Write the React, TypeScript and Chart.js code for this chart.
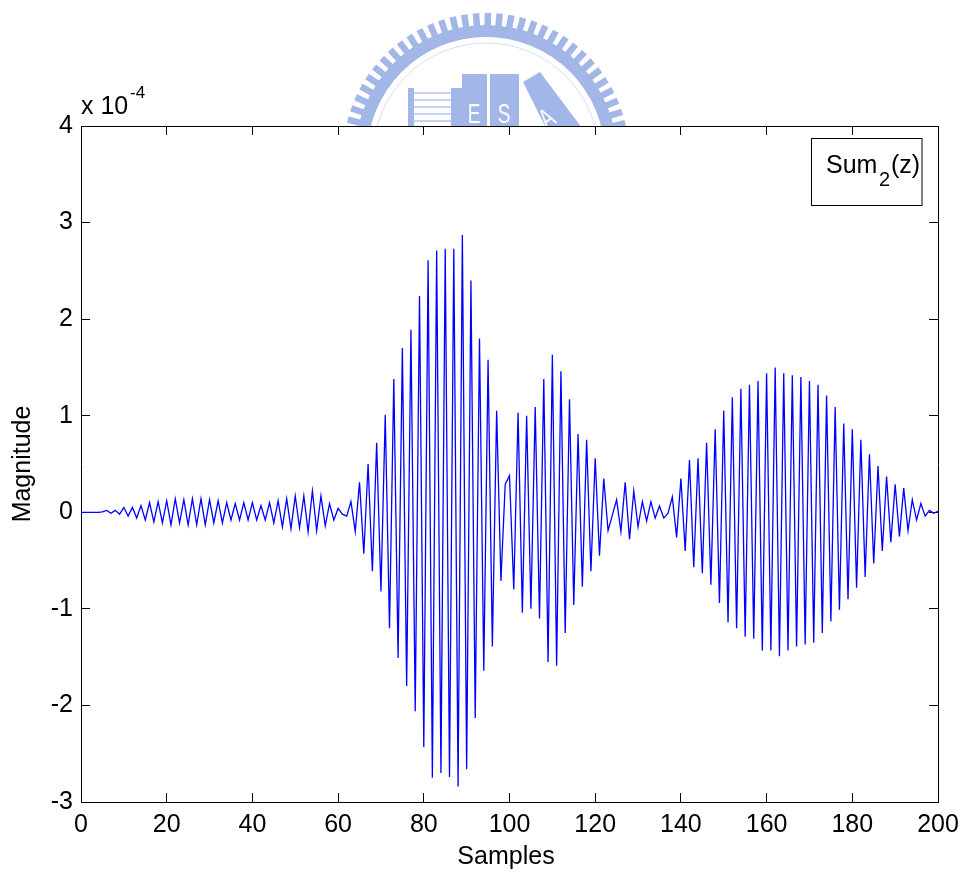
import React, { useEffect, useRef } from "react";
import { Chart, registerables } from "chart.js";

Chart.register(...registerables);

// Magnitude in units of 1e-4, sample 0 onward
const quietLead = [0, 0, 0, 0, 0, 0.005, 0.02, -0.01, 0.02, -0.02, 0.05, -0.04, 0.05, -0.06, 0.07, -0.08, 0.1, -0.1, 0.11, -0.11, 0.12, -0.13, 0.14, -0.11, 0.13, -0.13, 0.14, -0.13, 0.14, -0.13, 0.13, -0.11, 0.12, -0.11, 0.1, -0.08, 0.09, -0.08, 0.1, -0.08, 0.1, -0.08, 0.07, -0.08, 0.1, -0.11, 0.12, -0.15, 0.14, -0.17, 0.17, -0.16, 0.17, -0.2, 0.22, -0.19, 0.17, -0.14, 0.09, -0.08, 0.04, -0.02, -0.04];
const mainBurst = [0.11, -0.2, 0.31, -0.43, 0.5, -0.61, 0.72, -0.82, 1.01, -1.2, 1.38, -1.51, 1.7, -1.8, 1.89, -2.06, 2.24, -2.43, 2.61, -2.75, 2.71, -2.7, 2.73, -2.74, 2.73, -2.84, 2.87, -2.66, 2.4, -2.13, 1.8, -1.64, 1.58, -1.39, 1.05, -0.71, 0.29];
const middleBurst = [0.38, -0.8, 1.03, -1.04, 1.0, -1.0, 1.09, -1.1, 1.38, -1.55, 1.63, -1.59, 1.46, -1.25, 1.17, -0.96, 0.81, -0.77, 0.75, -0.61, 0.56, -0.45, 0.35, -0.19, -0.03, 0.13, -0.2, 0.31, -0.28, 0.22, -0.15, 0.11, -0.09, 0.11, -0.06, 0.065, -0.06, -0.01];
const lastBurst = [0.16, -0.26, 0.35, -0.4, 0.54, -0.57, 0.56, -0.63, 0.72, -0.75, 0.86, -0.94, 1.05, -1.14, 1.19, -1.2, 1.28, -1.29, 1.32, -1.31, 1.36, -1.43, 1.44, -1.43, 1.5, -1.49, 1.44, -1.43, 1.42, -1.39, 1.4, -1.37, 1.36, -1.35, 1.32, -1.25, 1.21, -1.13, 1.09, -1.01, 0.92, -0.9, 0.86, -0.78, 0.75, -0.67, 0.6, -0.53, 0.48, -0.4, 0.37, -0.31, 0.29, -0.25, 0.25, -0.19, 0.13, -0.08, 0.09, -0.04, 0.02, -0.01, 0.01];
const magnitudes = [...quietLead, ...mainBurst, ...middleBurst, ...lastBurst];

const xTitle = "Samples";
const yTitle = "Magnitude";
const legendParts = ["Sum", "2", "(z)"];
const exponentParts = ["x 10", "-4"];
const logoLetters = ["E", "S", "A"];

const FONT = '"Liberation Sans", Arial, sans-serif';
const LOGO = "#a3b6e8";

function drawLogo(ctx: CanvasRenderingContext2D) {
  const cx = 486, cy = 156;
  ctx.save();
  ctx.filter = "blur(0.7px)";
  ctx.fillStyle = LOGO;
  ctx.strokeStyle = LOGO;
  // toothed ring
  ctx.beginPath();
  ctx.arc(cx, cy, 131, Math.PI, 2 * Math.PI);
  ctx.arc(cx, cy, 119, 2 * Math.PI, Math.PI, true);
  ctx.closePath();
  ctx.fill();
  ctx.lineWidth = 6.5;
  for (let a = -170; a <= -10; a += 4.75) {
    const r = (a * Math.PI) / 180;
    ctx.beginPath();
    ctx.moveTo(cx + 128 * Math.cos(r), cy + 128 * Math.sin(r));
    ctx.lineTo(cx + 143 * Math.cos(r), cy + 143 * Math.sin(r));
    ctx.stroke();
  }
  // thin inner ring
  ctx.globalAlpha = 0.45;
  ctx.lineWidth = 1;
  ctx.beginPath();
  ctx.arc(cx, cy, 113, Math.PI, 2 * Math.PI);
  ctx.stroke();
  ctx.globalAlpha = 1;
  // books
  ctx.fillRect(408, 88, 6, 40);
  ctx.fillRect(451, 88, 11, 40);
  ctx.fillRect(462, 74, 25, 54);
  ctx.fillRect(490, 74, 29, 54);
  ctx.globalAlpha = 0.6;
  for (let y = 92; y < 128; y += 7) ctx.fillRect(414, y, 37, 2);
  ctx.globalAlpha = 1;
  ctx.beginPath();
  ctx.moveTo(523, 82);
  ctx.lineTo(540, 72);
  ctx.lineTo(582, 128);
  ctx.lineTo(546, 128);
  ctx.closePath();
  ctx.fill();
  // letters
  ctx.fillStyle = "#ffffff";
  ctx.font = `28px ${FONT}`;
  ctx.textAlign = "center";
  ctx.textBaseline = "alphabetic";
  const letter = (t: string, x: number, y: number, rot: number) => {
    ctx.save();
    ctx.translate(x, y);
    ctx.rotate(rot);
    ctx.scale(0.68, 1);
    ctx.fillText(t, 0, 0);
    ctx.restore();
  };
  letter(logoLetters[0], 474, 123, 0);
  letter(logoLetters[1], 504, 123, 0);
  letter(logoLetters[2], 552, 126, -0.6);
  ctx.restore();
}

const decorations = {
  id: "decorations",
  beforeDraw(chart: any) {
    const { ctx, chartArea: a } = chart;
    ctx.save();
    ctx.fillStyle = "#ffffff";
    ctx.fillRect(0, 0, chart.width, chart.height);
    drawLogo(ctx);
    ctx.fillStyle = "#ffffff";
    ctx.fillRect(a.left, a.top, a.width, a.height);
    ctx.restore();
  },
  afterDraw(chart: any) {
    const { ctx } = chart;
    ctx.save();
    ctx.fillStyle = "#000000";
    ctx.textBaseline = "alphabetic";
    // x axis title
    ctx.font = `25px ${FONT}`;
    ctx.textAlign = "center";
    ctx.fillText(xTitle, 506, 864);
    ctx.textAlign = "left";
    // exponent label
    ctx.font = `25px ${FONT}`;
    ctx.fillText(exponentParts[0], 81, 114);
    ctx.font = `17px ${FONT}`;
    ctx.fillText(exponentParts[1], 130, 98);
    // legend box
    ctx.strokeStyle = "#000000";
    ctx.lineWidth = 1;
    ctx.fillStyle = "#ffffff";
    ctx.fillRect(812, 138, 110, 67);
    ctx.strokeRect(811.5, 138.5, 110.5, 67);
    ctx.fillStyle = "#000000";
    ctx.font = `25px ${FONT}`;
    ctx.fillText(legendParts[0], 826, 173);
    ctx.font = `20px ${FONT}`;
    ctx.fillText(legendParts[1], 879, 186);
    ctx.font = `25px ${FONT}`;
    ctx.fillText(legendParts[2], 891, 173);
    ctx.restore();
  },
};

export default function App() {
  const ref = useRef<HTMLCanvasElement>(null);
  useEffect(() => {
    document.body.style.margin = "0";
    const tickFont = { family: FONT, size: 25 };
    const titleFont = { family: FONT, size: 25 };
    const frame = { display: true, color: "#000000", width: 1 };
    const marks = { drawOnChartArea: false, drawTicks: true, tickLength: -9, color: "#000000", lineWidth: 1 };
    const noOverhang = (s: any) => { s.paddingLeft = 0; s.paddingRight = 0; s.paddingTop = 0; s.paddingBottom = 0; };
    const chart = new Chart(ref.current!, {
      type: "line",
      data: {
        datasets: [
          {
            data: magnitudes.map((y, x) => ({ x, y })),
            borderColor: "#0000ff",
            borderWidth: 1.3,
            pointRadius: 0,
            tension: 0,
            fill: false,
          },
        ],
      },
      options: {
        animation: false,
        responsive: false,
        layout: { padding: { left: 0, top: 126, right: 27, bottom: 0 } },
        plugins: { legend: { display: false }, tooltip: { enabled: false }, title: { display: false } },
        scales: {
          x: {
            type: "linear",
            position: "bottom",
            min: 0,
            max: 200,
            border: frame,
            grid: marks,
            ticks: { stepSize: 20, color: "#000000", font: tickFont, padding: 17, maxRotation: 0, autoSkip: false },
            afterFit: (s: any) => { s.height = 71; noOverhang(s); },
          },
          y: {
            type: "linear",
            position: "left",
            min: -3,
            max: 4,
            border: frame,
            grid: marks,
            ticks: { stepSize: 1, color: "#000000", font: tickFont, padding: 17, autoSkip: false },
            title: { display: true, text: yTitle, color: "#000000", font: titleFont, padding: { top: 8, bottom: 0 } },
            afterFit: (s: any) => { s.width = 81; noOverhang(s); },
          },
          xTop: {
            type: "linear",
            position: "top",
            min: 0,
            max: 200,
            border: frame,
            grid: marks,
            ticks: { stepSize: 20, display: false, autoSkip: false },
            afterFit: (s: any) => { s.height = 0; noOverhang(s); },
          },
          yRight: {
            type: "linear",
            position: "right",
            min: -3,
            max: 4,
            border: frame,
            grid: marks,
            ticks: { stepSize: 1, display: false, autoSkip: false },
            afterFit: (s: any) => { s.width = 0; noOverhang(s); },
          },
        },
      } as any,
      plugins: [decorations],
    } as any);
    return () => chart.destroy();
  }, []);
  return <canvas ref={ref} width={965} height={873} style={{ display: "block" }} />;
}
